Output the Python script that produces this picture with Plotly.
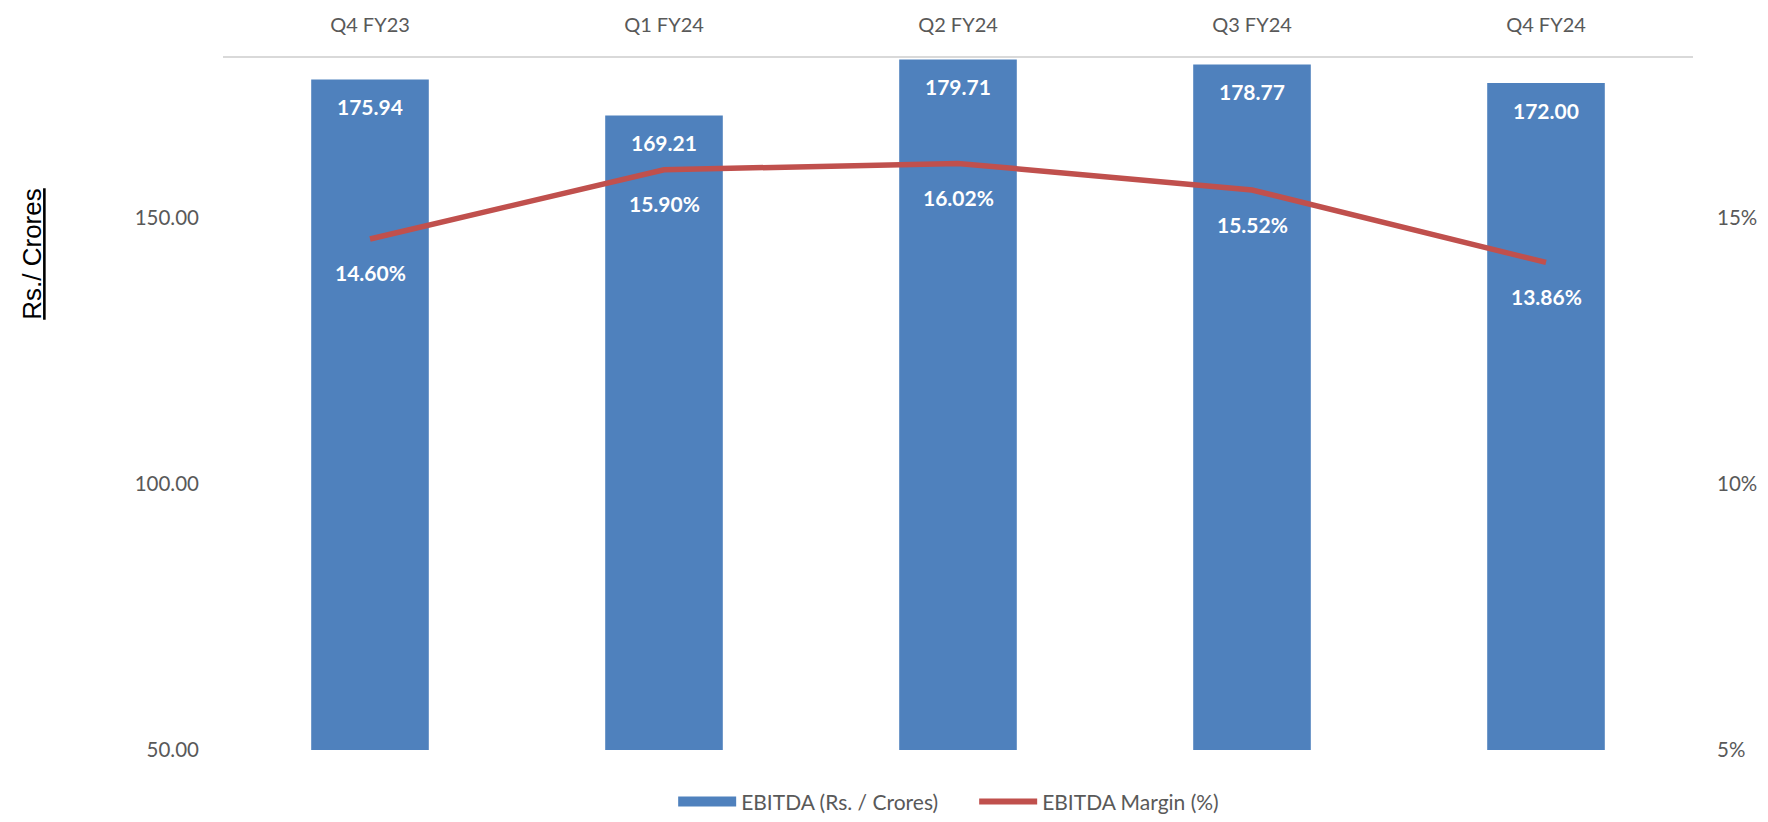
import plotly.graph_objects as go

# data
quarters = ["Q4 FY23", "Q1 FY24", "Q2 FY24", "Q3 FY24", "Q4 FY24"]
# heights/points as drawn in the picture
ebitda = [175.94, 169.21, 179.71, 178.77, 175.3]
margin_pct = [14.60, 15.90, 16.02, 15.52, 14.16]
# data labels as printed in the picture
ebitda_labels = ["175.94", "169.21", "179.71", "178.77", "172.00"]
margin_labels = ["14.60%", "15.90%", "16.02%", "15.52%", "13.86%"]

left_ticks = [50, 100, 150]
right_ticks = [0.05, 0.10, 0.15]

margin = [m / 100 for m in margin_pct]

grey = "#595959"
bar_blue = "#4F81BD"
line_red = "#C0504D"
font_main = "Lato, 'Open Sans', sans-serif"

fig = go.Figure()

fig.add_trace(go.Bar(
    x=quarters, y=ebitda, name="EBITDA (Rs. / Crores)",
    marker=dict(color=bar_blue, line=dict(width=0)),
    hoverinfo="skip", showlegend=False,
))

fig.add_trace(go.Scatter(
    x=quarters, y=margin, name="EBITDA Margin (%)", yaxis="y2",
    mode="lines", line=dict(color=line_red, width=5.5),
    hoverinfo="skip", showlegend=False,
))

# legend entries (wide swatches like the original)
fig.add_trace(go.Scatter(
    x=[None], y=[None], name="EBITDA (Rs. / Crores)", mode="lines",
    line=dict(color=bar_blue, width=14),
))
fig.add_trace(go.Scatter(
    x=[None], y=[None], name="EBITDA Margin (%)", mode="lines",
    line=dict(color=line_red, width=6),
))

# value labels inside bars (top) and below line points
annotations = []
for q, v, lab in zip(quarters, ebitda, ebitda_labels):
    annotations.append(dict(
        x=q, y=v, xref="x", yref="y", text=lab, showarrow=False,
        yshift=-27, font=dict(family=font_main, size=21, color="white", weight="bold"),
    ))
for q, m, lab in zip(quarters, margin, margin_labels):
    annotations.append(dict(
        x=q, y=m, xref="x", yref="y2", text=lab, showarrow=False,
        yshift=-34, font=dict(family=font_main, size=21, color="white", weight="bold"),
    ))

annotations.append(dict(
    x=-0.13, y=0.717, xref="paper", yref="paper", text="<u>Rs./ Crores</u>",
    xanchor="center", yanchor="middle",
    textangle=-90, showarrow=False,
    font=dict(family="Liberation Sans, Arial, sans-serif", size=26, color="black"),
))

# the page body adds an 8px offset, so the figure is sized to fit inside it
fig.update_layout(
    width=1752, height=806,
    margin=dict(l=215, r=67, t=50, b=64, autoexpand=False),
    paper_bgcolor="white", plot_bgcolor="white",
    bargap=0.6,
    font=dict(family=font_main, size=20, color=grey),
    xaxis=dict(
        side="top", showline=True, linecolor="#D9D9D9", linewidth=2,
        showgrid=False, ticks="", ticklabelstandoff=16, automargin=False,
        tickfont=dict(size=20, color=grey),
    ),
    yaxis=dict(
        range=[50, 180], tickvals=left_ticks, tickformat=".2f",
        showgrid=False, zeroline=False, showline=False, ticks="",
        ticklabelstandoff=23, automargin=False,
        tickfont=dict(size=20.5, color=grey),
    ),
    yaxis2=dict(
        overlaying="y", side="right", range=[0.05, 0.18],
        tickvals=right_ticks, tickformat=".0%",
        showgrid=False, zeroline=False, showline=False, ticks="",
        ticklabelstandoff=23, automargin=False,
        tickfont=dict(size=20.5, color=grey),
    ),
    legend=dict(
        orientation="h", x=0.511, xanchor="center", y=-0.075, yanchor="middle",
        font=dict(size=21, color=grey), itemwidth=58,
        entrywidth=228, entrywidthmode="pixels",
    ),
    annotations=annotations,
    showlegend=True,
)

fig.write_html("out.html")
